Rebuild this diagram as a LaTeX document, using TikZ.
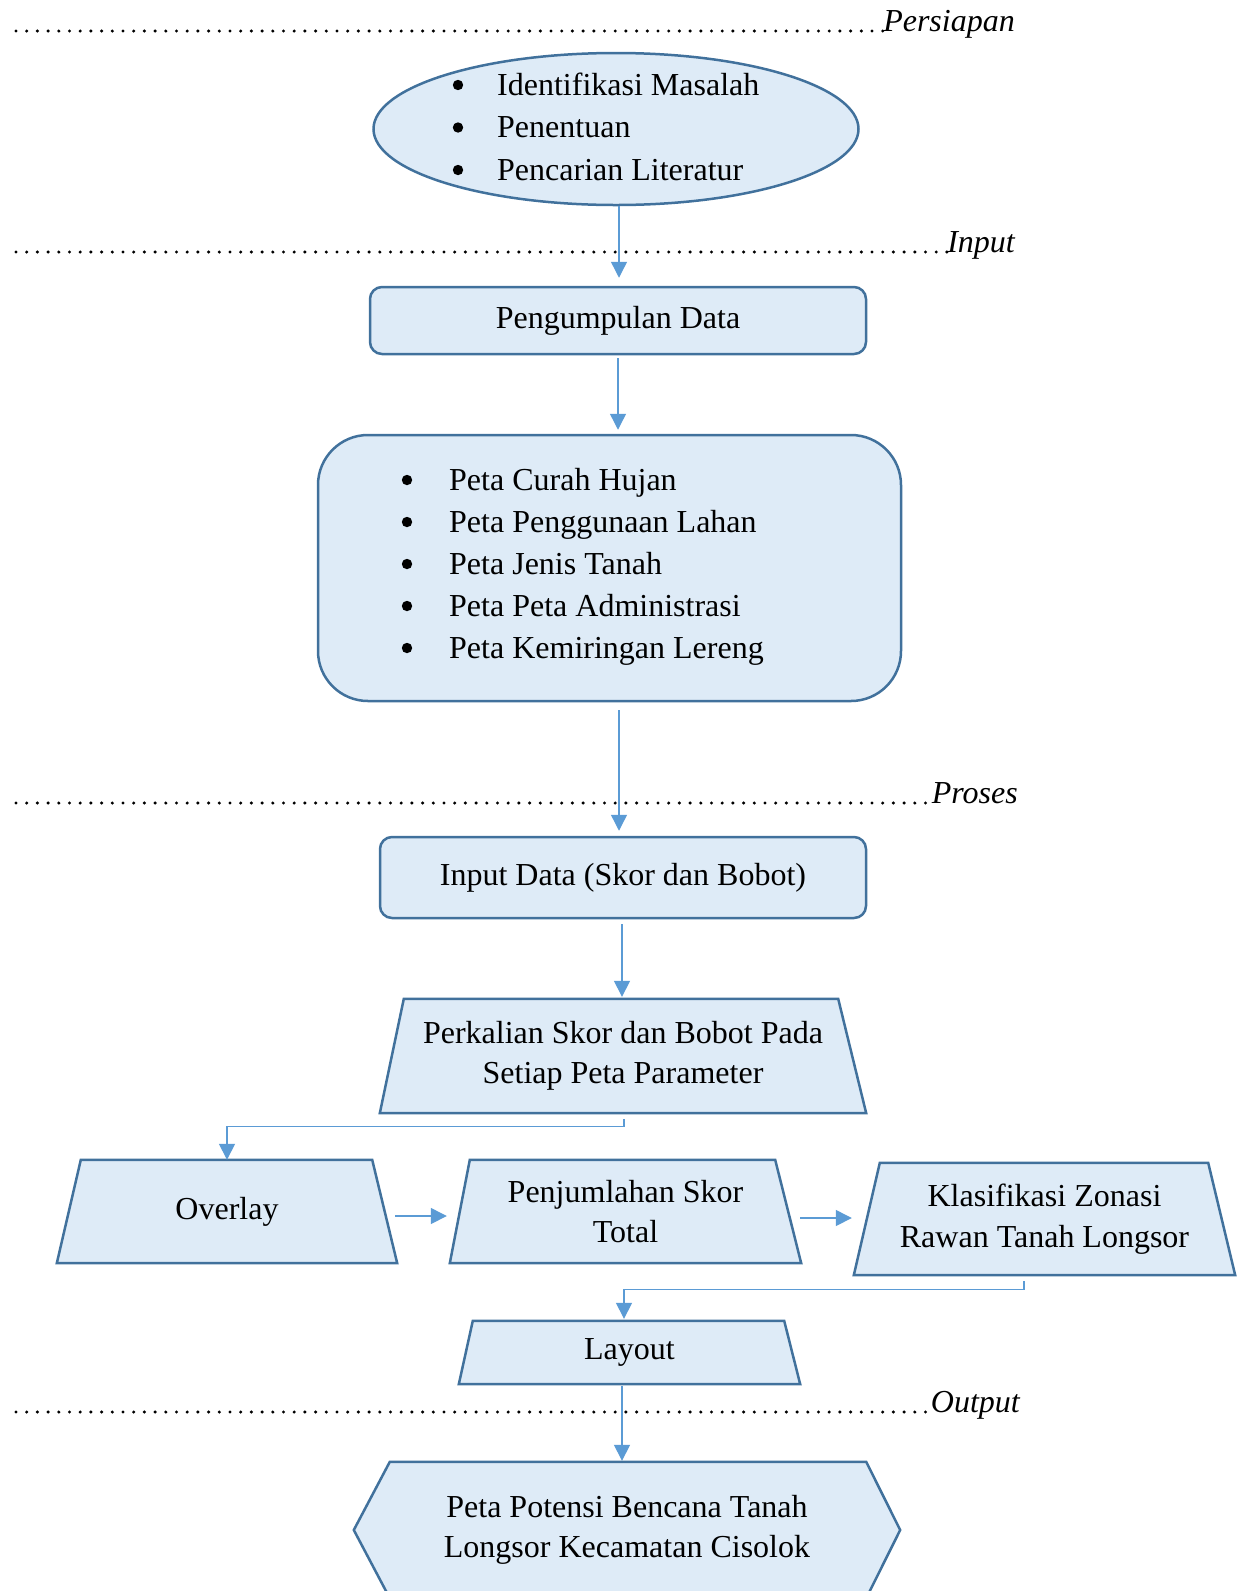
\documentclass[tikz,border=0pt]{standalone}
\usepackage{fontspec}
\setmainfont{Liberation Serif}
\usetikzlibrary{shapes.geometric,arrows.meta}
\definecolor{fillb}{HTML}{DEEBF7}
\definecolor{lineb}{HTML}{41719C}
\definecolor{arrb}{HTML}{5B9BD5}
\pgfdeclarelayer{bg}
\pgfsetlayers{bg,main}
\begin{document}
\begin{tikzpicture}[x=1pt,y=-1pt,
  font=\fontsize{32}{40.5}\selectfont,
  boxst/.style={draw=lineb,line width=2.5pt,fill=fillb},
  rbox/.style={boxst,rounded corners=12pt,inner sep=0pt,align=center},
  tnode/.style={inner sep=0pt,align=center},
  shp/.style={draw=lineb,line width=2.5pt,fill=fillb,line join=miter},
  arr/.style={draw=arrb,line width=1.4pt,-{Triangle[length=16pt,width=16pt]}},
  lbl/.style={inner sep=0pt,anchor=base west},
  bul/.style={fill=black},
  dotline/.style={line width=3.4pt,line cap=round,dash pattern=on 0pt off 10.7pt},
  sect/.style={font=\fontsize{32}{40}\selectfont\itshape,inner sep=0pt,anchor=base east}]
\useasboundingbox (0,0) rectangle (1243,1591);
\clip (0,0) rectangle (1243,1591);

% section markers
\draw[dotline] (16,31) -- (884,31);
\node[sect] (persiapan) at (1015,31) {Persiapan};
\draw[dotline] (16,252) -- (948,252);
\node[sect] (input) at (1015,252) {Input};
\draw[dotline] (16,803) -- (930,803);
\node[sect] (proses) at (1018,803) {Proses};
\draw[dotline] (16,1412) -- (930,1412);
\node[sect] (output) at (1020,1412) {Output};

% preparation ellipse
\node[ellipse,boxst,minimum width=485pt,minimum height=152pt,inner sep=0pt] (prep) at (616,129) {};
\node[lbl] (e1) at (497,95) {Identifikasi Masalah};
\node[lbl] (e2) at (497,137.5) {Penentuan};
\node[lbl] (e3) at (497,180) {Pencarian Literatur};
\fill[bul] (458,85) circle (5.2);
\fill[bul] (458,127.5) circle (5.2);
\fill[bul] (458,170) circle (5.2);

% boxes
\node[rbox,minimum width=496pt,minimum height=67pt] (data1) at (618,320.5) {Pengumpulan Data};
\node[boxst,rounded corners=50pt,minimum width=583pt,minimum height=266pt,inner sep=0pt] (maps) at (609.5,568) {};
\node[lbl] (m1) at (449,490) {Peta Curah Hujan};
\node[lbl] (m2) at (449,532) {Peta Penggunaan Lahan};
\node[lbl] (m3) at (449,574) {Peta Jenis Tanah};
\node[lbl] (m4) at (449,616) {Peta Peta Administrasi};
\node[lbl] (m5) at (449,658) {Peta Kemiringan Lereng};
\foreach \yy in {480,522,564,606,648} \fill[bul] (407,\yy) circle (5.2);
\node[rbox,minimum width=486pt,minimum height=81pt] (inp) at (623,877.5) {Input Data (Skor dan Bobot)};

% trapezoids (text nodes; outlines drawn on background layer)
\node[tnode,minimum width=486pt,minimum height=114pt] (perk) at (623,1056) {Perkalian Skor dan Bobot Pada\\Setiap Peta Parameter};
\node[tnode,minimum width=340pt,minimum height=103pt] (over) at (227,1211.5) {Overlay};
\node[tnode,minimum width=351pt,minimum height=103pt] (sum) at (625.5,1211.5) {Penjumlahan Skor\\Total};
\node[tnode,minimum width=381pt,minimum height=112pt] (klas) at (1044.5,1219) {Klasifikasi Zonasi\\Rawan Tanah Longsor};
\node[tnode,minimum width=341pt,minimum height=63pt] (lay) at (629.5,1352.5) {Layout};
\node[tnode,minimum width=546pt,minimum height=136pt] (hex) at (627,1530) {Peta Potensi Bencana Tanah\\Longsor Kecamatan Cisolok};

\begin{pgfonlayer}{bg}
\draw[shp] ([xshift=24pt]perk.north west) -- ([xshift=-28pt]perk.north east) -- (perk.south east) -- (perk.south west) -- cycle;
\draw[shp] ([xshift=24pt]over.north west) -- ([xshift=-25pt]over.north east) -- (over.south east) -- (over.south west) -- cycle;
\draw[shp] ([xshift=20pt]sum.north west) -- ([xshift=-26pt]sum.north east) -- (sum.south east) -- (sum.south west) -- cycle;
\draw[shp] ([xshift=26pt]klas.north west) -- ([xshift=-27pt]klas.north east) -- (klas.south east) -- (klas.south west) -- cycle;
\draw[shp] ([xshift=14pt]lay.north west) -- ([xshift=-16pt]lay.north east) -- (lay.south east) -- (lay.south west) -- cycle;
\draw[shp] ([xshift=36pt]hex.north west) -- ([xshift=-34pt]hex.north east) -- (hex.east) -- ([xshift=-34pt]hex.south east) -- ([xshift=36pt]hex.south west) -- (hex.west) -- cycle;
\end{pgfonlayer}

% connectors
\draw[arr,shorten >=8pt] ([xshift=3pt]prep.south) -- ([xshift=3pt]prep.south |- data1.north);
\draw[arr,shorten <=3pt,shorten >=4pt] (data1.south) -- (data1.south |- maps.north);
\draw[arr,shorten <=8pt,shorten >=5pt] ([xshift=9.5pt]maps.south) -- ([xshift=9.5pt]maps.south |- inp.north);
\draw[arr,shorten <=5pt,shorten >=2pt] ([xshift=-1pt]inp.south) -- ([xshift=-1pt]inp.south |- perk.north);
\draw[arr] ([xshift=1pt,yshift=-6pt]perk.south) -- ++(0,7) -| (over.north);
\draw[arr] ([xshift=-2pt,yshift=-4.5pt]over.east) -- ([xshift=-3pt,yshift=-4.5pt]over.east -| sum.west);
\draw[arr] ([xshift=-1pt,yshift=-6.5pt]sum.east) -- ([xshift=-2pt,yshift=-6.5pt]sum.east -| klas.west);
\draw[arr,shorten >=2pt] ([xshift=-20.5pt,yshift=-6pt]klas.south) -- ++(0,8) -| ([xshift=-5.5pt]lay.north);
\draw[arr,shorten <=2pt,shorten >=1pt] ([xshift=-7.5pt]lay.south) -- ([xshift=-7.5pt]lay.south |- hex.north);
\end{tikzpicture}
\end{document}
